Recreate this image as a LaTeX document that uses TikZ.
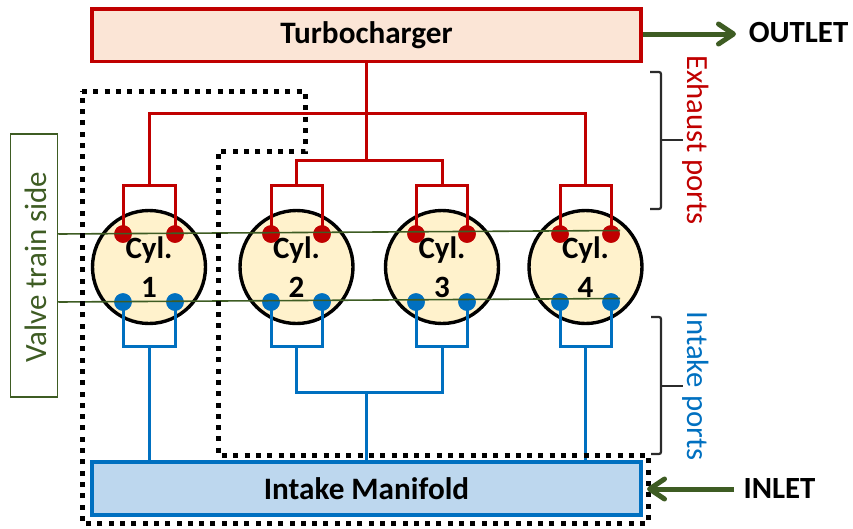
\documentclass[tikz,border=0pt]{standalone}
\usepackage{fontspec}
\setmainfont{Carlito}
\usetikzlibrary{arrows.meta}
\definecolor{cred}{HTML}{C00000}
\definecolor{cblue}{HTML}{0070C0}
\definecolor{cgreen}{HTML}{3E5C23}
\definecolor{cdark}{HTML}{2B2B2B}
\definecolor{cexh}{HTML}{FBE5D6}
\definecolor{cint}{HTML}{BDD7EE}
\definecolor{cylfill}{HTML}{FFF2CC}
\tikzset{
  x=1pt,y=-1pt,
  block/.style={draw,line width=3.6pt,minimum width=549pt,minimum height=52.5pt,inner sep=0pt,font=\bfseries\fontsize{31.2}{33}\selectfont,text=black},
  cyl/.style={circle,draw=black,line width=3.4pt,fill=cylfill,minimum size=113pt,inner sep=0pt},
  cyllabel/.style={inner sep=0pt,font=\bfseries\fontsize{31}{33}\selectfont,text=black},
  portdot/.style={circle,minimum size=17.5pt,inner sep=0pt},
  exhport/.style={portdot,fill=cred},
  intport/.style={portdot,fill=cblue},
  exhline/.style={draw=cred,line width=3pt},
  intline/.style={draw=cblue,line width=3pt},
  valveline/.style={draw=cgreen,line width=1.6pt},
  flowarrow/.style={draw=cgreen,line width=5pt,-{Straight Barb[length=15pt,width=20pt,round]}},
  bracebar/.style={draw=cdark,line width=2.2pt,rounded corners=2pt},
  sidelabel/.style={rotate=-90,inner sep=0pt,font=\fontsize{30.8}{33}\selectfont},
  flowlabel/.style={inner sep=0pt,font=\bfseries\fontsize{30.8}{33}\selectfont,text=black},
  dottedwall/.style={draw=black,line width=5pt,dash pattern=on 5pt off 6.3pt}
}
\begin{document}
\begin{tikzpicture}
\useasboundingbox (0,0) rectangle (853,528);
% boxes
\node[block,draw=cred,fill=cexh] (turbo) at (366.5,35.2) {Turbocharger};
\node[block,draw=cblue,fill=cint] (manifold) at (366.5,488.5) {Intake Manifold};
% cylinders
\foreach \n/\x in {1/149,2/296.5,3/442,4/585.5}{
  \node[cyl] (cyl\n) at (\x,267) {};
  \node[cyllabel] (cyltop\n) at (\x,250) {Cyl.};
  \node[cyllabel] (cylnum\n) at (\x,287) {\n};
}
% ports
\foreach \n/\a/\b in {1/123/175,2/271/322,3/416/467,4/560/611}{
  \node[exhport] (ea\n) at (\a,234) {};
  \node[exhport] (eb\n) at (\b,234) {};
  \node[intport] (ia\n) at (\a,302) {};
  \node[intport] (ib\n) at (\b,302) {};
}
% named junctions
\foreach \n/\x in {1/149,2/296.5,3/442,4/585.5}{
  \coordinate (et\n) at (\x,185);
  \coordinate (it\n) at (\x,346);
}
\coordinate (ehigh1) at (149,113);
\coordinate (ehigh4) at (585.5,113);
\coordinate (elow2) at (296.5,160);
\coordinate (elow3) at (442,160);
\coordinate (el) at (366.5,160);
\coordinate (tbot) at (366.5,61);
\coordinate (ilow2) at (296.5,392);
\coordinate (ilow3) at (442,392);
\coordinate (il) at (366.5,392);
% pipes at the cylinders
\foreach \n in {1,2,3,4}{
  \draw[exhline] (ea\n.center) |- (et\n) -| (eb\n.center);
  \draw[intline] (ia\n.center) |- (it\n) -| (ib\n.center);
}
\draw[exhline] (et1) -- (ehigh1) -- (ehigh4) -- (et4);
\draw[exhline] (turbo.south -| tbot) -- (el);
\draw[exhline] (et2) -- (elow2) -- (elow3) -- (et3);
% intake pipes
\draw[intline] (it1) -- (it1 |- manifold.north);
\draw[intline] (it4) -- (it4 |- manifold.north);
\draw[intline] (it2) -- (ilow2) -- (ilow3) -- (it3);
\draw[intline] (il) -- (il |- manifold.north);
\foreach \n in {1,2,3,4}{
  \node[exhport] at (ea\n) {};
  \node[exhport] at (eb\n) {};
  \node[intport] at (ia\n) {};
  \node[intport] at (ib\n) {};
}
% valve train
\node[draw=cgreen,line width=1.5pt,minimum width=47pt,minimum height=263pt,inner sep=0pt] (valve) at (34,265.5) {};
\node[rotate=90,inner sep=0pt,text=cgreen,font=\fontsize{31}{33}\selectfont] (valvetext) at (35.5,267) {Valve train side};
\coordinate (vu) at (620,230.5);
\coordinate (vl) at (620,298.5);
\draw[valveline] (valve.east |- 0,234) -- (vu);
\draw[valveline] (valve.east |- 0,302) -- (vl);
% dotted wall
\draw[dottedwall] (82,91) -- (305,91) -- (305,151) -- (218,151) -- (218,455) -- (648,455) -- (648,523) -- (82,523) -- cycle;
% flow arrows
\node[flowlabel] (outlet) at (798.5,33) {OUTLET};
\node[flowlabel] (inlet) at (779.5,489) {INLET};
\coordinate (outtip) at (736,34);
\coordinate (intail) at (734,489);
\coordinate (intip) at (647,489);
\draw[flowarrow] (turbo.east |- outtip) -- (outtip);
\draw[flowarrow] (intail) -- (intip);
% braces
\coordinate (b1a) at (650,72); \coordinate (b1b) at (661,72); \coordinate (b1c) at (661,209); \coordinate (b1d) at (650,209);
\coordinate (b1m) at (661,140); \coordinate (b1e) at (683,140);
\draw[bracebar] (b1a) -- (b1b) -- (b1c) -- (b1d);
\draw[cdark,line width=2.2pt] (b1m) -- (b1e);
\coordinate (b2a) at (651,317); \coordinate (b2b) at (661,317); \coordinate (b2c) at (661,454); \coordinate (b2d) at (651,454);
\coordinate (b2m) at (661,386); \coordinate (b2e) at (683,386);
\draw[bracebar] (b2a) -- (b2b) -- (b2c) -- (b2d);
\draw[cdark,line width=2.2pt] (b2m) -- (b2e);
\node[sidelabel,text=cred] (exlabel) at (696,140) {Exhaust ports};
\node[sidelabel,text=cblue] (inlabel) at (696,386) {Intake ports};
\end{tikzpicture}
\end{document}
